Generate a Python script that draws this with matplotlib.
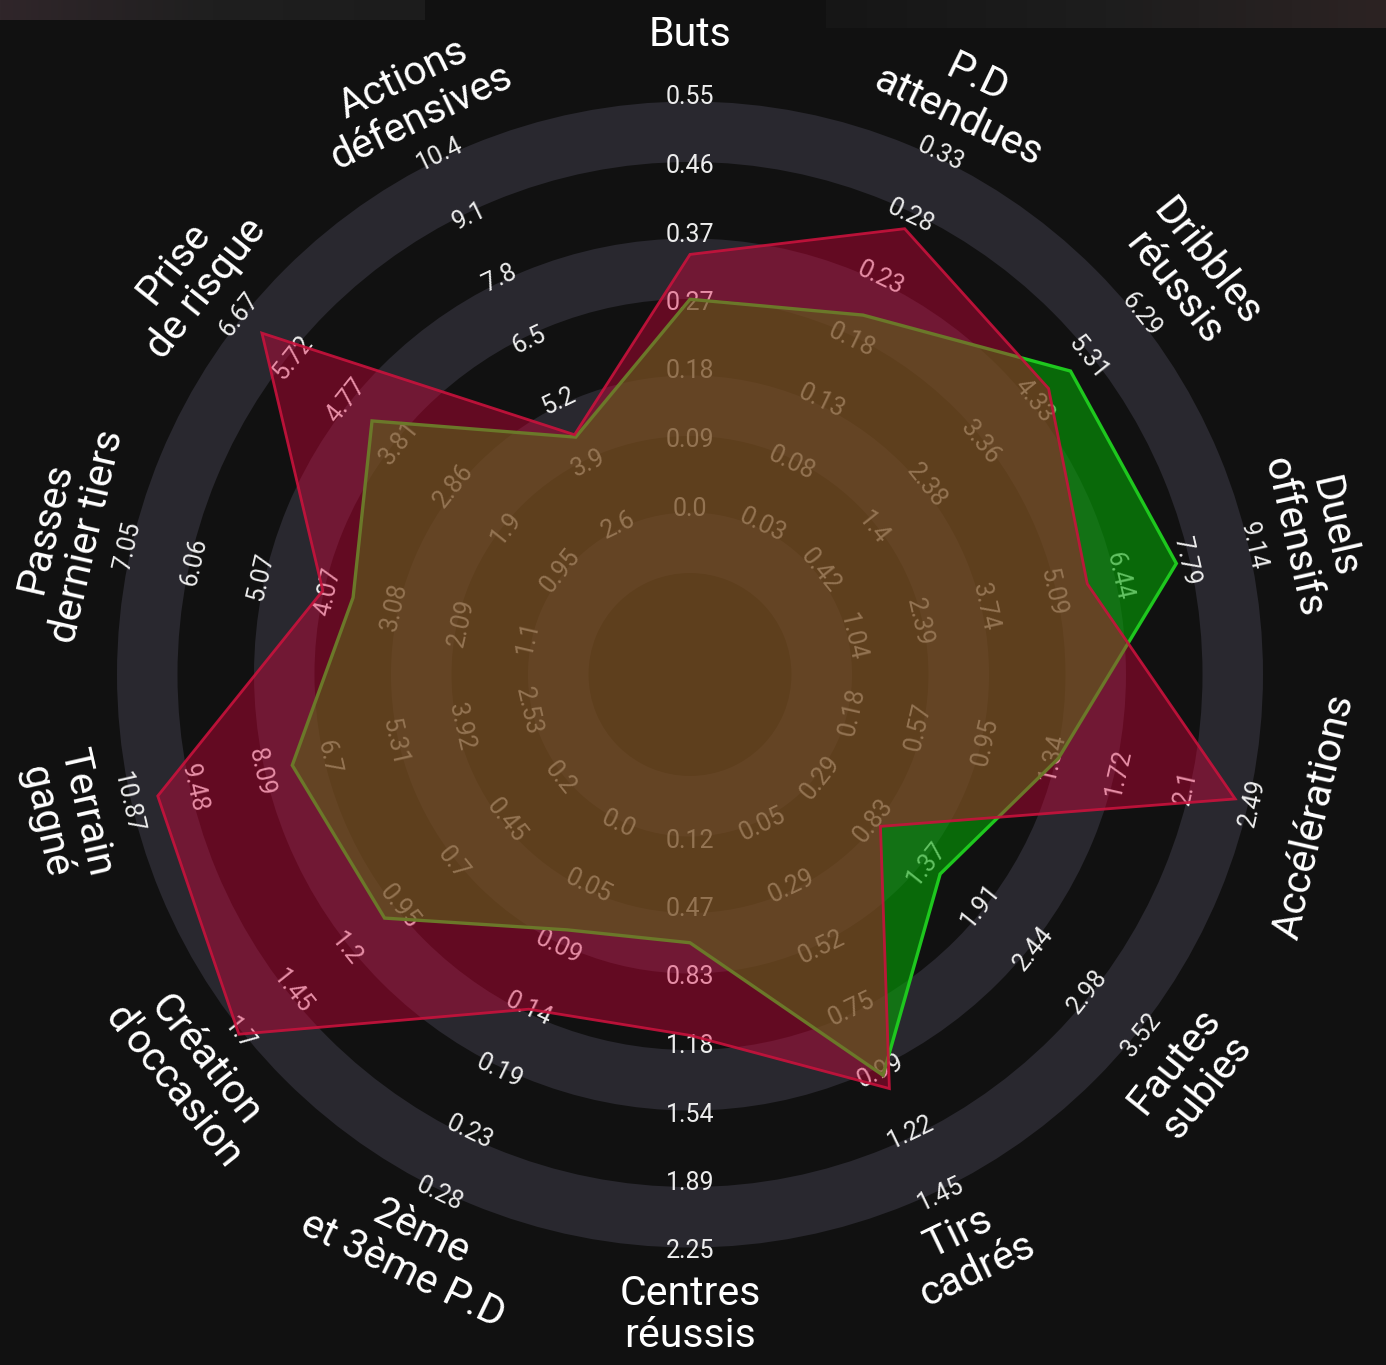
import numpy as np
import matplotlib.pyplot as plt
from matplotlib.patches import Wedge, Polygon
from matplotlib.colors import LinearSegmentedColormap

plt.rcParams['font.family'] = ['Roboto', 'DejaVu Sans']

params = ['Buts', 'P.D\nattendues', 'Dribbles\nréussis', 'Duels\noffensifs',
          'Accélérations', 'Fautes\nsubies', 'Tirs\ncadrés', 'Centres\nréussis',
          '2ème\net 3ème P.D', "Création\nd'occasion", 'Terrain\ngagné',
          'Passes\ndernier tiers', 'Prise\nde risque', 'Actions\ndéfensives']

# range labels for each parameter, from the inner ring outwards
range_labels = [
    ['0.0', '0.09', '0.18', '0.27', '0.37', '0.46', '0.55'],
    ['0.03', '0.08', '0.13', '0.18', '0.23', '0.28', '0.33'],
    ['0.42', '1.4', '2.38', '3.36', '4.33', '5.31', '6.29'],
    ['1.04', '2.39', '3.74', '5.09', '6.44', '7.79', '9.14'],
    ['0.18', '0.57', '0.95', '1.34', '1.72', '2.1', '2.49'],
    ['0.29', '0.83', '1.37', '1.91', '2.44', '2.98', '3.52'],
    ['0.05', '0.29', '0.52', '0.75', '0.99', '1.22', '1.45'],
    ['0.12', '0.47', '0.83', '1.18', '1.54', '1.89', '2.25'],
    ['0.0', '0.05', '0.09', '0.14', '0.19', '0.23', '0.28'],
    ['0.2', '0.45', '0.7', '0.95', '1.2', '1.45', '1.7'],
    ['2.53', '3.92', '5.31', '6.7', '8.09', '9.48', '10.87'],
    ['1.1', '2.09', '3.08', '4.07', '5.07', '6.06', '7.05'],
    ['0.95', '1.9', '2.86', '3.81', '4.77', '5.72', '6.67'],
    ['2.6', '3.9', '5.2', '6.5', '7.8', '9.1', '10.4'],
]

values_red = [0.34, 0.27, 4.6, 5.8, 2.39, 0.9, 1.05, 1.13, 0.14, 1.7, 10.24, 4.15, 6.26, 4.5]
values_green = [0.28, 0.2, 5.0, 7.6, 1.37, 1.5, 1.0, 0.65, 0.08, 1.02, 7.44, 3.7, 4.3, 4.45]

BG = '#111111'
RING = '#29282f'
RED = '#df003c'
GREEN = '#05a505'

W, H = 1386, 1365
CX, CY = 690, 674.5
R0 = 166.0      # radius of the first range label
STEP = 68.5     # distance between range labels
R_PARAM = 640   # radius of the parameter names

n = len(params)
theta = np.arange(n) * 2 * np.pi / n   # clockwise from the top

fig = plt.figure(figsize=(W / 100, H / 100), dpi=100, facecolor=BG)
ax = fig.add_axes([0, 0, 1, 1])
ax.set_facecolor(BG)
ax.set_xlim(-CX, W - CX)
ax.set_ylim(-(H - CY), CY)
ax.set_aspect('equal')
ax.axis('off')

# faint bars along the top edge
grad = np.linspace(0, 1, 256).reshape(1, -1)
cm_left = LinearSegmentedColormap.from_list('l', ['#30262a', '#1f1f1f', '#1c1c1c'])
cm_right = LinearSegmentedColormap.from_list('r', ['#161616', '#1d1d1d', '#2c2323'])
ax.imshow(grad, cmap=cm_left, extent=(-CX, -CX + 425, CY - 20, CY), aspect='auto', zorder=0)
ax.imshow(grad, cmap=cm_right, extent=(826 - CX, W - CX, CY - 28, CY), aspect='auto', zorder=0)

# alternating rings
edges = R0 - STEP + STEP * np.arange(8)
for lo, hi in zip(edges[0::2], edges[1::2]):
    lo, hi = lo + 4, hi - 4
    ax.add_patch(Wedge((0, 0), hi, 0, 360, width=hi - lo, facecolor=RING,
                       edgecolor='none', zorder=1))


def text_rotation(t):
    deg = np.degrees(t)
    if 90 < deg < 270:
        return 180 - deg
    return -deg


for i, t in enumerate(theta):
    rot = text_rotation(t)
    for k, lab in enumerate(range_labels[i]):
        r = R0 + k * STEP
        ax.text(r * np.sin(t), r * np.cos(t), lab, rotation=rot, rotation_mode='anchor',
                ha='center', va='center', fontsize=18, color='#ededed', zorder=2)
    ax.text(R_PARAM * np.sin(t), R_PARAM * np.cos(t), params[i], rotation=rot,
            rotation_mode='anchor', ha='center', va='center', fontsize=29.5,
            color='white', linespacing=1.1, zorder=2)


def radar_xy(values):
    pts = []
    for i, v in enumerate(values):
        lo = float(range_labels[i][0])
        hi = float(range_labels[i][-1])
        r = R0 + (v - lo) / (hi - lo) * STEP * 6
        pts.append((r * np.sin(theta[i]), r * np.cos(theta[i])))
    return np.array(pts)


ax.add_patch(Polygon(radar_xy(values_green), closed=True, facecolor=GREEN, alpha=0.6,
                     edgecolor='none', zorder=3))
ax.add_patch(Polygon(radar_xy(values_green), closed=True, facecolor='none',
                     edgecolor='#1ec81e', lw=2.4, zorder=3))
ax.add_patch(Polygon(radar_xy(values_red), closed=True, facecolor=RED, alpha=0.4,
                     edgecolor='none', zorder=4))
ax.add_patch(Polygon(radar_xy(values_red), closed=True, facecolor='none',
                     edgecolor='#c8123c', lw=2.0, alpha=0.9, zorder=4))

fig.savefig('out.png', dpi=100, facecolor=BG)
